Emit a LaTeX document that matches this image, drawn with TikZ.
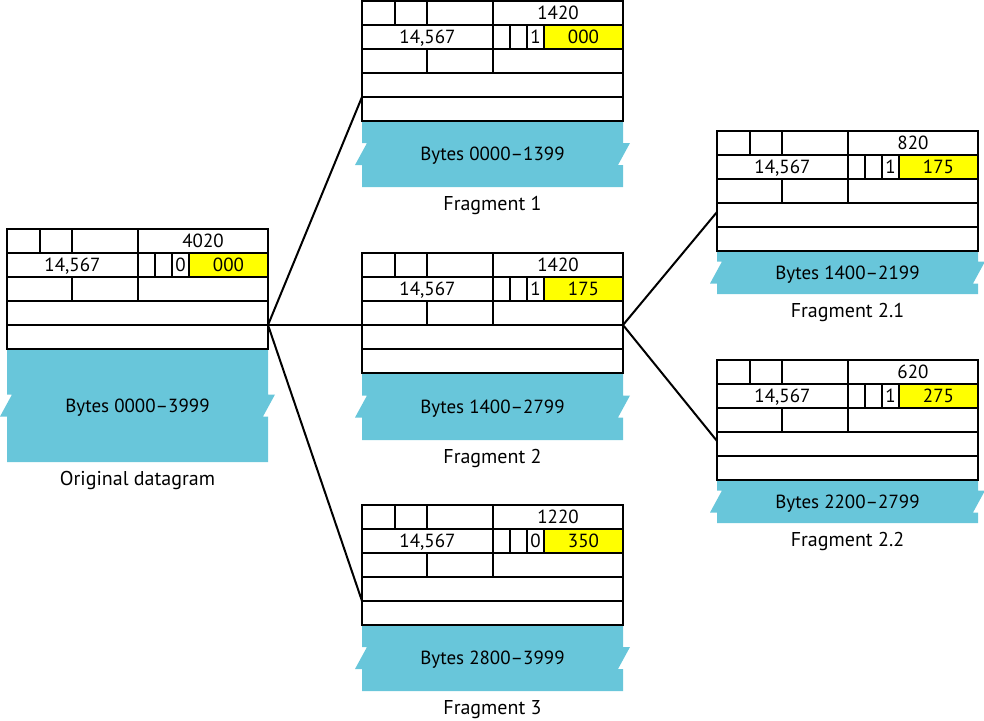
\documentclass[tikz,border=0pt]{standalone}
\usepackage{fontspec}
\setmainfont{PT Sans}
\definecolor{bandblue}{RGB}{104,198,218}
\definecolor{offyellow}{RGB}{255,255,0}
\tikzset{
  boxline/.style={line width=1.3pt, draw=black},
  conn/.style={line width=2pt, draw=black},
  txt/.style={inner sep=0pt, text height=13.5pt, text depth=0pt, font=\fontsize{19}{22}\selectfont},
  labtxt/.style={txt, font=\fontsize{20}{23}\selectfont},
}
\newcommand\dgram[9]{%
  \begin{scope}[shift={(#2,#3)}]
    \fill[bandblue] (0,120) -- (261,120) -- (261,{120+#4/2-11}) -- (268,{120+#4/2-11})
      -- (256,{120+#4/2+11}) -- (261,{120+#4/2+11}) -- (261,{120+#4}) -- (0,{120+#4})
      -- (0,{120+#4/2+11}) -- (-7,{120+#4/2+11}) -- (5,{120+#4/2-11}) -- (0,{120+#4/2-11}) -- cycle;
    \fill[offyellow] (182,24) rectangle (261,48);
    \draw[boxline] (0,0) rectangle (261,120);
    \draw[boxline] (0,24) -- (261,24) (0,48) -- (261,48) (0,72) -- (261,72) (0,96) -- (261,96);
    \draw[boxline] (33,0) -- (33,24) (65,0) -- (65,24) (131,0) -- (131,72)
      (148,24) -- (148,48) (165,24) -- (165,48) (182,24) -- (182,48) (65,48) -- (65,72);
    \node[txt] (#1-len) at (196,12) {#5};
    \node[txt] (#1-id) at (65.5,36) {14,567};
    \node[txt] (#1-flag) at (173.5,36) {#6};
    \node[txt] (#1-off) at (221.5,36) {#7};
    \node[txt] (#1-bytes) at (130.5,{120+#4/2}) {#8};
    \node[labtxt] (#1-lab) at (130.5,{120+#4+16.5}) {#9};
  \end{scope}}
\begin{document}
\begin{tikzpicture}[x=1pt,y=-1pt]
  \useasboundingbox (0,0) rectangle (984,720);
  \dgram{o}{7}{229}{113}{4020}{0}{000}{Bytes 0000–3999}{Original datagram}
  \dgram{f1}{362}{1}{66}{1420}{1}{000}{Bytes 0000–1399}{Fragment 1}
  \dgram{f2}{362}{253}{67}{1420}{1}{175}{Bytes 1400–2799}{Fragment 2}
  \dgram{f3}{362}{505}{66}{1220}{0}{350}{Bytes 2800–3999}{Fragment 3}
  \dgram{fa}{717}{131}{43}{820}{1}{175}{Bytes 1400–2199}{Fragment 2.1}
  \dgram{fb}{717}{360}{43}{620}{1}{275}{Bytes 2200–2799}{Fragment 2.2}
  \coordinate (o-r) at (268,325);
  \coordinate (f1-l) at (362,97);
  \coordinate (f2-l) at (362,325);
  \coordinate (f3-l) at (362,601);
  \coordinate (f2-r) at (623,325);
  \coordinate (fa-l) at (717,212);
  \coordinate (fb-l) at (717,441);
  \draw[conn] (o-r) -- (f1-l);
  \draw[conn] (o-r) -- (f2-l);
  \draw[conn] (o-r) -- (f3-l);
  \draw[conn] (f2-r) -- (fa-l);
  \draw[conn] (f2-r) -- (fb-l);
\end{tikzpicture}
\end{document}
